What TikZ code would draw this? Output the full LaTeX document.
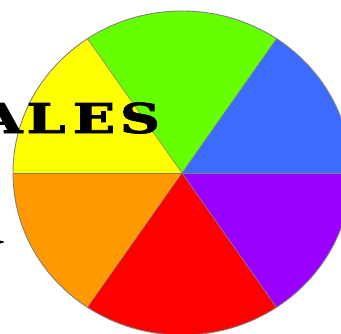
\documentclass[tikz,border=0pt]{standalone}
\usepackage{fontspec}
\newfontfamily\letterfont[BoldFeatures={FakeBold=2}]{DejaVu Serif}
\definecolor{wblue}{RGB}{59,108,255}
\definecolor{wgreen}{RGB}{102,255,0}
\definecolor{wyellow}{RGB}{255,255,0}
\definecolor{worange}{RGB}{255,153,0}
\definecolor{wred}{RGB}{255,0,0}
\definecolor{wpurple}{RGB}{153,0,255}
\definecolor{wedge}{RGB}{128,128,128}
\tikzset{
  rim/.style={draw=wedge,line width=0.9pt},
  spoke/.style={draw=wedge,line width=0.6pt},
  letter/.style={font=\letterfont\bfseries\fontsize{41}{41}\selectfont,anchor=base,inner sep=0pt,xscale=1.35,text=black}
}
\begin{document}
\begin{tikzpicture}[x=1pt,y=1pt]
\useasboundingbox (0,0) rectangle (341,333);
\clip (0,0) rectangle (341,333);
\coordinate (C) at (182,160);
\fill[wblue]   (C) -- ++(0:169pt and 162pt)   arc[start angle=0,end angle=56,x radius=169pt,y radius=162pt] -- cycle;
\fill[wgreen]  (C) -- ++(56:169pt and 162pt)  arc[start angle=56,end angle=124,x radius=169pt,y radius=162pt] -- cycle;
\fill[wyellow] (C) -- ++(124:169pt and 162pt) arc[start angle=124,end angle=180,x radius=169pt,y radius=162pt] -- cycle;
\fill[worange] (C) -- ++(180:169pt and 162pt) arc[start angle=180,end angle=236,x radius=169pt,y radius=162pt] -- cycle;
\fill[wred]    (C) -- ++(236:169pt and 162pt) arc[start angle=236,end angle=304,x radius=169pt,y radius=162pt] -- cycle;
\fill[wpurple] (C) -- ++(304:169pt and 162pt) arc[start angle=304,end angle=360,x radius=169pt,y radius=162pt] -- cycle;
\foreach \t in {0,56,124,180,236,304} {
  \draw[spoke] (C) -- ++(\t:169pt and 162pt);
}
\draw[rim] (C) ellipse[x radius=169pt,y radius=162pt];
\node[letter] (la) at (1,200) {A};
\node[letter] (ll) at (46,200) {L};
\node[letter] (le) at (94,200) {E};
\node[letter] (ls) at (140,200) {S};
\fill[black] (0,89.5) -- (3.5,90.5) -- (4,91.5) -- (0,92.5) -- cycle;
\end{tikzpicture}
\end{document}
